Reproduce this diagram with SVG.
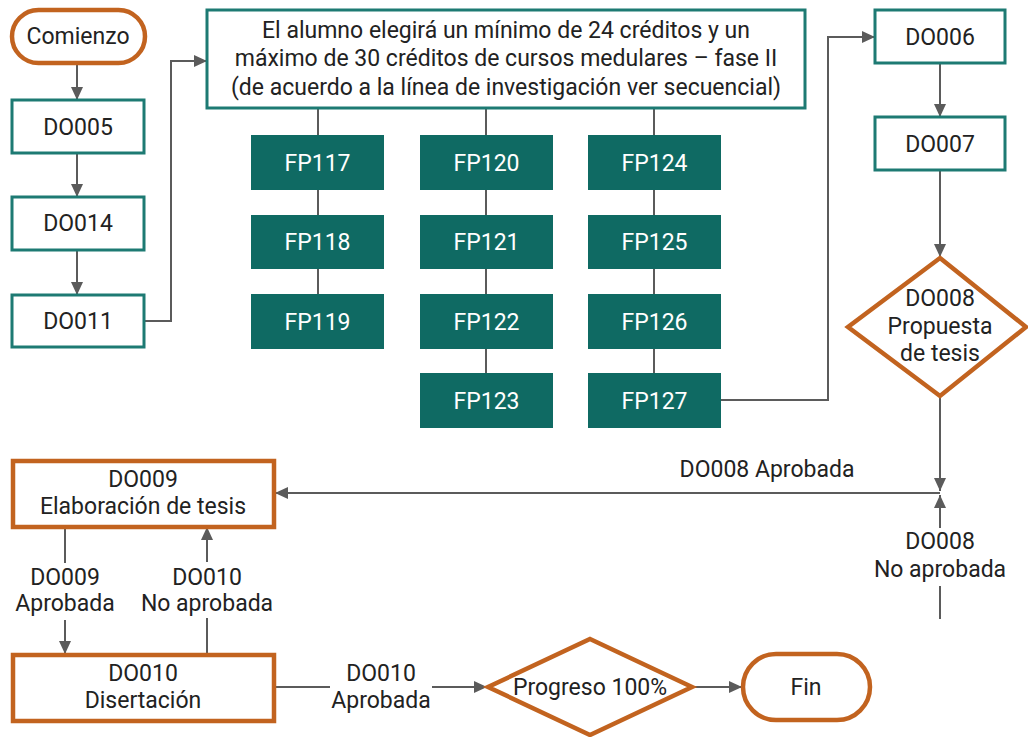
<svg xmlns="http://www.w3.org/2000/svg" width="1028" height="737" viewBox="0 0 1028 737">
<defs>
<style>
text{font-family:Roboto,"Liberation Sans",sans-serif;font-size:23px;fill:#222;text-anchor:middle}
.t{fill:#fff;stroke:#1d7a73;stroke-width:3}
.o{fill:#fff;stroke:#c2631f;stroke-width:4.5}
.fp{fill:#0f6a63}
.w{fill:#fff}
.c{fill:none;stroke:#5b5b5b;stroke-width:2}
</style>
<marker id="a" markerUnits="userSpaceOnUse" markerWidth="13" markerHeight="12" refX="13" refY="6" orient="auto">
<path d="M0,0 L13,6 L0,12 z" fill="#5b5b5b"/>
</marker>
</defs>
<rect width="1028" height="737" fill="#fff"/>
<g id="connectors">
<path class="c" d="M77,63 V100" marker-end="url(#a)"/>
<path class="c" d="M77,153 V197" marker-end="url(#a)"/>
<path class="c" d="M77,250 V295" marker-end="url(#a)"/>
<path class="c" d="M145,321 H171 V61 H207" marker-end="url(#a)"/>
<path class="c" d="M318,108 V294"/>
<path class="c" d="M486,108 V373"/>
<path class="c" d="M654,108 V373"/>
<path class="c" d="M721,400 H828 V37 H875" marker-end="url(#a)"/>
<path class="c" d="M940,63 V117" marker-end="url(#a)"/>
<path class="c" d="M940,170 V257" marker-end="url(#a)"/>
<path class="c" d="M940,397 V491" marker-end="url(#a)"/>
<path class="c" d="M940,493 H275" marker-end="url(#a)"/>
<path class="c" d="M940,619 V586"/>
<path class="c" d="M940,528 V495" marker-end="url(#a)"/>
<path class="c" d="M65,527 V563"/>
<path class="c" d="M65,620 V654" marker-end="url(#a)"/>
<path class="c" d="M207,654 V618"/>
<path class="c" d="M207,562 V527" marker-end="url(#a)"/>
<path class="c" d="M274,687 H330"/>
<path class="c" d="M432,687 H487" marker-end="url(#a)"/>
<path class="c" d="M693,687 H742" marker-end="url(#a)"/>
</g>
<g id="comienzo"><rect class="o" x="12" y="10" width="133" height="53" rx="26.5"/><text x="78" y="44">Comienzo</text></g>
<g id="do005"><rect class="t" x="12" y="100" width="132" height="53"/><text x="78" y="135">DO005</text></g>
<g id="do014"><rect class="t" x="12" y="197" width="132" height="53"/><text x="78" y="231">DO014</text></g>
<g id="do011"><rect class="t" x="12" y="295" width="132" height="52"/><text x="78" y="329">DO011</text></g>
<g id="fase2"><rect class="t" x="207" y="10" width="598" height="98"/>
<text x="506" y="38">El alumno elegirá un mínimo de 24 créditos y un</text>
<text x="506" y="66">máximo de 30 créditos de cursos medulares – fase II</text>
<text x="506" y="95">(de acuerdo a la línea de investigación ver secuencial)</text></g>
<g id="fp117"><rect class="fp" x="251" y="135" width="133" height="55"/><text class="w" x="317.5" y="170.5">FP117</text></g>
<g id="fp118"><rect class="fp" x="251" y="215" width="133" height="54"/><text class="w" x="317.5" y="250">FP118</text></g>
<g id="fp119"><rect class="fp" x="251" y="294" width="133" height="55"/><text class="w" x="317.5" y="329.5">FP119</text></g>
<g id="fp120"><rect class="fp" x="420" y="135" width="133" height="55"/><text class="w" x="486.5" y="170.5">FP120</text></g>
<g id="fp121"><rect class="fp" x="420" y="215" width="133" height="54"/><text class="w" x="486.5" y="250">FP121</text></g>
<g id="fp122"><rect class="fp" x="420" y="294" width="133" height="55"/><text class="w" x="486.5" y="329.5">FP122</text></g>
<g id="fp123"><rect class="fp" x="420" y="373" width="133" height="55"/><text class="w" x="486.5" y="408.5">FP123</text></g>
<g id="fp124"><rect class="fp" x="588" y="135" width="133" height="55"/><text class="w" x="654.5" y="170.5">FP124</text></g>
<g id="fp125"><rect class="fp" x="588" y="215" width="133" height="54"/><text class="w" x="654.5" y="250">FP125</text></g>
<g id="fp126"><rect class="fp" x="588" y="294" width="133" height="55"/><text class="w" x="654.5" y="329.5">FP126</text></g>
<g id="fp127"><rect class="fp" x="588" y="373" width="133" height="55"/><text class="w" x="654.5" y="408.5">FP127</text></g>
<g id="do006"><rect class="t" x="875" y="10" width="130" height="53"/><text x="940" y="45">DO006</text></g>
<g id="do007"><rect class="t" x="875" y="117" width="130" height="53"/><text x="940" y="152">DO007</text></g>
<g id="do008"><path class="o" d="M940,258 L1026,327 L940,396 L848,327 z"/>
<text x="940" y="306">DO008</text><text x="940" y="334">Propuesta</text><text x="940" y="361">de tesis</text></g>
<g id="labels">
<text x="767" y="477">DO008 Aprobada</text>
<text x="940" y="549">DO008</text><text x="940" y="577">No aprobada</text>
<text x="65" y="585">DO009</text><text x="65" y="611">Aprobada</text>
<text x="207" y="585">DO010</text><text x="207" y="611">No aprobada</text>
<text x="381" y="681">DO010</text><text x="381" y="708">Aprobada</text>
</g>
<g id="do009"><rect class="o" x="13" y="461" width="261" height="66"/><text x="143" y="487">DO009</text><text x="143" y="514">Elaboración de tesis</text></g>
<g id="do010"><rect class="o" x="13" y="655" width="261" height="66"/><text x="143" y="681">DO010</text><text x="143" y="708">Disertación</text></g>
<g id="progreso"><path class="o" d="M590,639 L692,687 L590,735 L488,687 z"/><text x="590" y="695">Progreso 100%</text></g>
<g id="fin"><rect class="o" x="743" y="654" width="127" height="66" rx="33"/><text x="806" y="695">Fin</text></g>
</svg>
